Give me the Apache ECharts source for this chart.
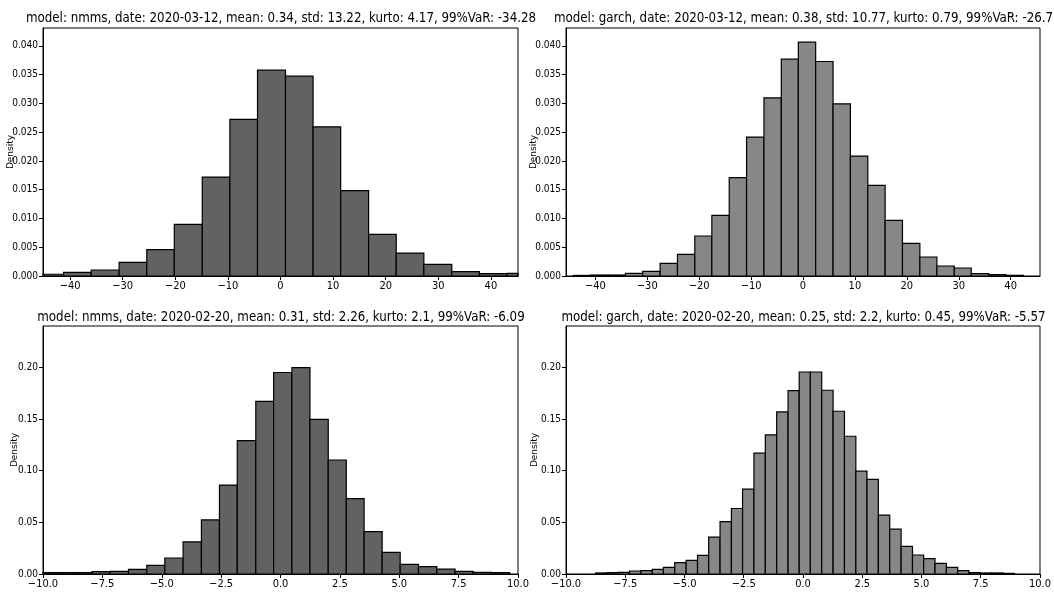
<!DOCTYPE html>
<html>
<head>
<meta charset="utf-8">
<script src="https://cdn.jsdelivr.net/npm/echarts@6/dist/echarts.min.js"></script>
<style>html,body{margin:0;padding:0;background:#fff;}#c{width:1054px;height:596px;}</style>
</head>
<body>
<div id="c"></div>
<script>
// ---- titles ----
const titleTL = 'model: nmms, date: 2020-03-12, mean: 0.34, std: 13.22, kurto: 4.17, 99%VaR: -34.28';
const titleTR = 'model: garch, date: 2020-03-12, mean: 0.38, std: 10.77, kurto: 0.79, 99%VaR: -26.7';
const titleBL = 'model: nmms, date: 2020-02-20, mean: 0.31, std: 2.26, kurto: 2.1, 99%VaR: -6.09';
const titleBR = 'model: garch, date: 2020-02-20, mean: 0.25, std: 2.2, kurto: 0.45, 99%VaR: -5.57';

// ---- top-left: nmms 2020-03-12 ----
const edgesTL = [-46.50, -41.24, -35.99, -30.68, -25.42, -20.19, -14.87, -9.62, -4.37, 0.95, 6.19, 11.44, 16.75, 22.00, 27.25, 32.56, 37.81, 43.07, 48.30];
const densTL = [0.0003, 0.00064, 0.00104, 0.00237, 0.00457, 0.00897, 0.01719, 0.02721, 0.03577, 0.03473, 0.02593, 0.01482, 0.00724, 0.00399, 0.00203, 0.00075, 0.0004, 0.00046];

// ---- top-right: garch 2020-03-12 ----
const edgesTR = [-44.25, -40.89, -37.55, -34.21, -30.87, -27.52, -24.18, -20.84, -17.56, -14.21, -10.87, -7.52, -4.18, -0.90, 2.44, 5.79, 9.13, 12.48, 15.82, 19.16, 22.51, 25.79, 29.13, 32.41, 35.76, 39.10, 42.44];
const densTR = [0.0001, 0.00017, 0.00017, 0.00046, 0.00081, 0.0022, 0.00376, 0.00695, 0.01054, 0.01708, 0.02414, 0.03097, 0.03768, 0.04064, 0.03728, 0.02993, 0.02084, 0.01575, 0.00967, 0.00567, 0.0033, 0.00174, 0.00139, 0.00041, 0.00023, 0.00012];

// ---- bottom-left: nmms 2020-02-20 ----
const edgesBL = [-10.24, -9.47, -8.70, -7.94, -7.17, -6.40, -5.63, -4.87, -4.10, -3.33, -2.57, -1.82, -1.04, -0.29, 0.48, 1.24, 2.01, 2.77, 3.52, 4.28, 5.04, 5.81, 6.58, 7.35, 8.11, 8.88, 9.65];
const densBL = [0.0013, 0.0013, 0.0013, 0.0023, 0.0026, 0.0045, 0.0084, 0.0155, 0.031, 0.0523, 0.0861, 0.129, 0.167, 0.195, 0.1997, 0.1497, 0.1103, 0.0729, 0.041, 0.021, 0.0094, 0.0071, 0.0048, 0.0026, 0.0016, 0.0013];

// ---- bottom-right: garch 2020-02-20 ----
const edgesBR = [-8.75, -8.27, -7.79, -7.32, -6.84, -6.36, -5.89, -5.41, -4.93, -4.45, -3.98, -3.50, -3.02, -2.55, -2.07, -1.59, -1.11, -0.63, -0.16, 0.31, 0.79, 1.27, 1.75, 2.23, 2.70, 3.18, 3.66, 4.14, 4.62, 5.09, 5.57, 6.05, 6.53, 7.00, 7.48, 7.96, 8.44, 8.92];
const densBR = [0.001, 0.0013, 0.0016, 0.0029, 0.0032, 0.0045, 0.0064, 0.011, 0.0132, 0.018, 0.0357, 0.0506, 0.0634, 0.0821, 0.1169, 0.1346, 0.1568, 0.1775, 0.1955, 0.1955, 0.1778, 0.1575, 0.1333, 0.0995, 0.0915, 0.057, 0.0435, 0.0267, 0.0184, 0.0148, 0.0103, 0.0064, 0.0032, 0.0013, 0.001, 0.001, 0.0006];

// ---- ticks ----
const xTicksTop = [-40, -30, -20, -10, 0, 10, 20, 30, 40];
const xTicksBottom = [-10, -7.5, -5, -2.5, 0, 2.5, 5, 7.5, 10];
const yTicksTop = [0, 0.005, 0.01, 0.015, 0.02, 0.025, 0.03, 0.035, 0.04];
const yTicksBottom = [0, 0.05, 0.1, 0.15, 0.2];

const NARROW = "'Liberation Sans Narrow', 'DejaVu Sans Condensed', 'Roboto Condensed', 'Liberation Sans', sans-serif";
const colNmms = '#626262';
const colGarch = '#878787';

function toRows(edges, dens) {
  return dens.map((d, i) => [edges[i], edges[i + 1], d]);
}
const minus = s => String(s).replace('-', '\u2212');

function renderItem(params, api) {
  const x0 = api.value(0), x1 = api.value(1), h = api.value(2);
  const p0 = api.coord([x0, h]);
  const p1 = api.coord([x1, 0]);
  const cs = params.coordSys;
  const shape = echarts.graphic.clipRectByRect(
    { x: p0[0], y: p0[1], width: p1[0] - p0[0], height: p1[1] - p0[1] },
    { x: cs.x, y: cs.y, width: cs.width, height: cs.height }
  );
  if (!shape) return;
  return { type: 'rect', shape: shape, style: { fill: api.visual('color'), stroke: '#000', lineWidth: 1.2 } };
}

const grids = [
  { left: 43, top: 28, width: 475, height: 248 },
  { left: 566, top: 28, width: 474, height: 248 },
  { left: 43, top: 326, width: 475, height: 248 },
  { left: 566, top: 326, width: 474, height: 248 }
].map(g => Object.assign(g, { show: true, borderColor: '#000', borderWidth: 1, backgroundColor: 'transparent' }));

const xRanges = [[-45.15, 45.15], [-45.65, 45.65], [-10, 10], [-10, 10]];
const xTickSets = [xTicksTop, xTicksTop, xTicksBottom, xTicksBottom];
const xFmt = [v => minus(v), v => minus(v), v => minus(v.toFixed(1)), v => minus(v.toFixed(1))];
const yMax = [0.0431, 0.0431, 0.24, 0.24];
const yTickSets = [yTicksTop, yTicksTop, yTicksBottom, yTicksBottom];
const yFmt = [v => v.toFixed(3), v => v.toFixed(3), v => v.toFixed(2), v => v.toFixed(2)];
const nameGaps = [28, 28, 24, 27];

const xAxis = [0, 1, 2, 3].map(i => ({
  type: 'value', gridIndex: i, min: xRanges[i][0], max: xRanges[i][1],
  splitLine: { show: false },
  axisLine: { show: true, onZero: false, lineStyle: { color: '#000', width: 1 } },
  axisTick: { show: true, length: 4, lineStyle: { color: '#000' }, customValues: xTickSets[i] },
  axisLabel: { customValues: xTickSets[i], formatter: xFmt[i], color: '#000', fontSize: 11, fontFamily: NARROW, margin: 5 }
}));

const yAxis = [0, 1, 2, 3].map(i => ({
  type: 'value', gridIndex: i, min: 0, max: yMax[i],
  name: 'Density', nameLocation: 'middle', nameRotate: 90, nameGap: nameGaps[i], nameMoveOverlap: false,
  nameTextStyle: { fontSize: 9, color: '#000', fontFamily: "'DejaVu Sans', sans-serif" },
  splitLine: { show: false },
  axisLine: { show: true, onZero: false, lineStyle: { color: '#000', width: 1 } },
  axisTick: { show: true, length: 4, lineStyle: { color: '#000' }, customValues: yTickSets[i] },
  axisLabel: { customValues: yTickSets[i], formatter: yFmt[i], color: '#000', fontSize: 10, fontFamily: NARROW, margin: 5 }
}));

const titleTexts = [titleTL, titleTR, titleBL, titleBR];
const titleCenters = [276, 798.5, 276, 798.5];
const titleTops = [7, 7, 306, 306];
const title = [0, 1, 2, 3].map(i => ({
  text: titleTexts[i], left: titleCenters[i], top: titleTops[i], textAlign: 'center',
  textStyle: { fontSize: 13.2, fontWeight: 'normal', color: '#000', fontFamily: NARROW }
}));

const seriesData = [toRows(edgesTL, densTL), toRows(edgesTR, densTR), toRows(edgesBL, densBL), toRows(edgesBR, densBR)];
const seriesColors = [colNmms, colGarch, colNmms, colGarch];
const series = [0, 1, 2, 3].map(i => ({
  type: 'custom', xAxisIndex: i, yAxisIndex: i, renderItem: renderItem,
  itemStyle: { color: seriesColors[i] },
  encode: { x: [0, 1], y: 2 },
  data: seriesData[i]
}));

const chart = echarts.init(document.getElementById('c'), null, { renderer: 'canvas' });
chart.setOption({ animation: false, backgroundColor: '#fff', title, grid: grids, xAxis, yAxis, series });
</script>
</body>
</html>
